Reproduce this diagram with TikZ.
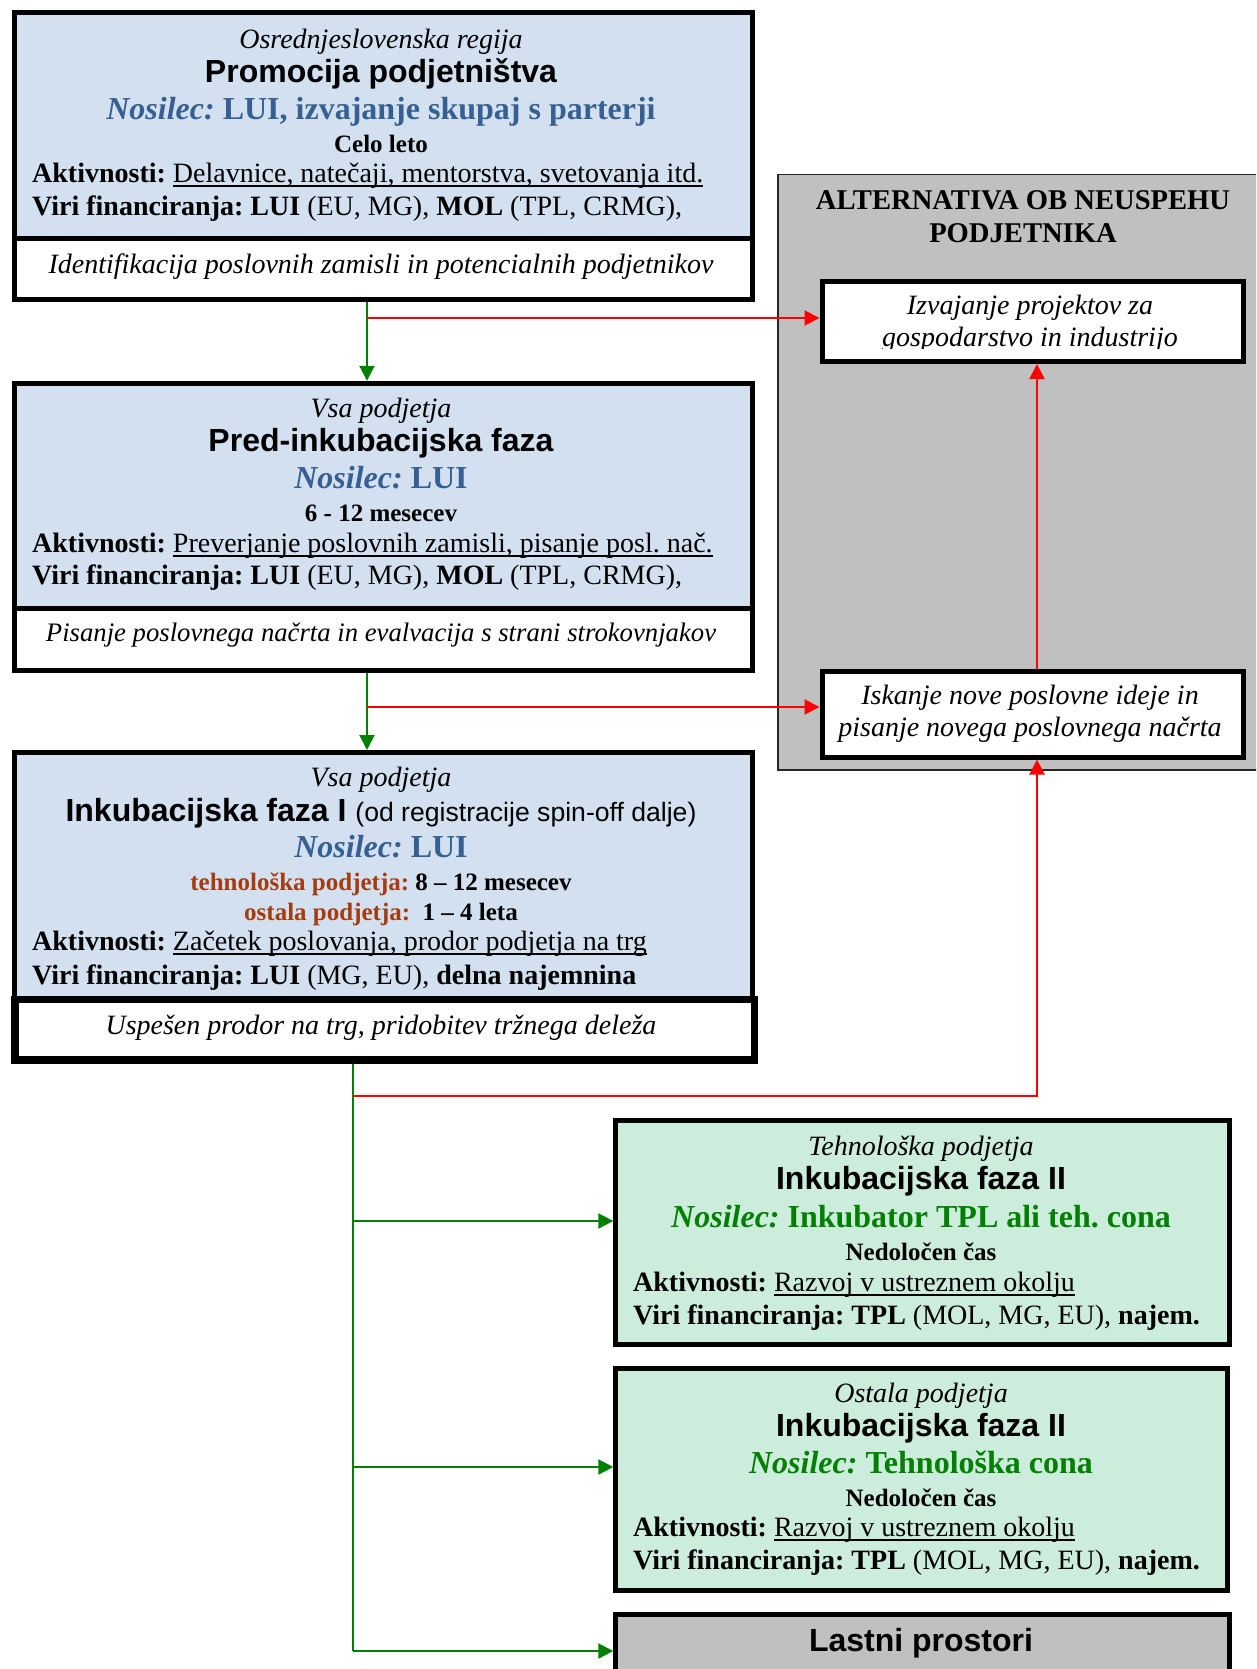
\documentclass[tikz,border=0pt]{standalone}
\usepackage{fontspec}
\setmainfont{Liberation Serif}
\setsansfont{Liberation Sans}
\usetikzlibrary{arrows.meta}
\frenchspacing
\definecolor{bluefill}{RGB}{210,224,240}
\definecolor{nosblue}{RGB}{54,96,146}
\definecolor{greenfill}{RGB}{204,236,220}
\definecolor{nosgreen}{RGB}{0,128,0}
\definecolor{tdbrown}{RGB}{165,60,15}
\definecolor{grayfill}{RGB}{192,192,192}
\newcommand\tdul[1]{\setbox0\hbox{#1}\rlap{\rule[-4pt]{\wd0}{1.6pt}}\box0}
\tikzset{
  frame/.style={draw=black, line width=5pt, anchor=north west, inner sep=0pt},
  bluebox/.style={frame, fill=bluefill},
  whitebox/.style={frame, fill=white},
  greenbox/.style={frame, fill=greenfill},
  altbox/.style={draw=black!85, line width=1.5pt, fill=grayfill, anchor=north west},
  altin/.style={frame, fill=white},
  txt/.style={anchor=mid, inner sep=0pt, yshift=-7.5pt, font=\fontsize{28}{32}\selectfont},
  txtl/.style={txt, anchor=mid west},
  itx/.style={txt, font=\fontsize{28}{32}\selectfont\itshape},
  head/.style={txt, font=\fontsize{32}{36}\selectfont\sffamily\bfseries},
  nos/.style={txt, font=\fontsize{32}{36}\selectfont\bfseries},
  dur/.style={txt, font=\fontsize{25}{29}\selectfont\bfseries},
  gline/.style={draw=nosgreen, line width=2pt},
  garrow/.style={gline, -{Triangle[length=15pt,width=15pt]}},
  rline/.style={draw=red, line width=2pt},
  rarrow/.style={rline, -{Triangle[length=15pt,width=15pt]}},
}
\begin{document}
\begin{tikzpicture}[x=1pt,y=-1pt]
\useasboundingbox (0,0) rectangle (1256,1669);
\clip (0,0) rectangle (1256,1669);

% ---------- boxes ----------
\node[bluebox, minimum width=738.5pt, minimum height=225.5pt] (b1) at (11.5,10.5) {};
\node[whitebox, minimum width=738.5pt, minimum height=61.5pt] (b1w) at (11.5,236) {};
\node[bluebox, minimum width=738.5pt, minimum height=225.5pt] (b2) at (11.5,380.8) {};
\node[whitebox, minimum width=738.5pt, minimum height=61.5pt] (b2w) at (11.5,606.3) {};
\node[bluebox, minimum width=738.5pt, minimum height=245.5pt] (b3) at (11.5,750) {};
\node[altbox, minimum width=520pt, minimum height=595pt] (alt) at (777,174) {};
\node[altin, minimum width=421pt, minimum height=79.5pt] (izv) at (819.5,279.5) {};
\node[altin, minimum width=421pt, minimum height=86pt] (isk) at (819.5,668.5) {};
\node[greenbox, minimum width=613.7pt, minimum height=223.2pt] (tpl) at (613.3,1118.3) {};
\node[greenbox, minimum width=612pt, minimum height=221.5pt] (ost) at (613.3,1366) {};
\node[frame, fill=grayfill, minimum width=613.7pt, minimum height=100pt] (last) at (613.3,1611.5) {};

% ---------- box 1 texts ----------
\node[itx] (b1a) at (381,39) {Osrednjeslovenska regija};
\node[head] (b1b) at (381,73) {Promocija podjetništva};
\node[nos, text=nosblue] (b1c) at (381,110) {\textit{Nosilec:} LUI, izvajanje skupaj s parterji};
\node[dur] (b1d) at (381,143) {Celo leto};
\node[txtl] (b1e) at (32,173) {\textbf{Aktivnosti:} \tdul{Delavnice, natečaji, mentorstva, svetovanja itd.}};
\node[txtl] (b1f) at (32,206) {\textbf{Viri financiranja: LUI} (EU, MG), \textbf{MOL} (TPL, CRMG),};
\node[itx] (b1g) at (381,264) {Identifikacija poslovnih zamisli in potencialnih podjetnikov};

% ---------- box 2 texts ----------
\node[itx] (b2a) at (381,408) {Vsa podjetja};
\node[head] (b2b) at (381,442) {Pred-inkubacijska faza};
\node[nos, text=nosblue] (b2c) at (381,479) {\textit{Nosilec:} LUI};
\node[dur] (b2d) at (381,512) {6 - 12 mesecev};
\node[txtl] (b2e) at (32,543) {\textbf{Aktivnosti:} \tdul{Preverjanje poslovnih zamisli, pisanje posl. nač.}};
\node[txtl] (b2f) at (32,575) {\textbf{Viri financiranja: LUI} (EU, MG), \textbf{MOL} (TPL, CRMG),};
\node[itx, font=\fontsize{26.7}{31}\selectfont\itshape] (b2g) at (381,632) {Pisanje poslovnega načrta in evalvacija s strani strokovnjakov};

% ---------- box 3 texts ----------
\node[itx] (b3a) at (381,777) {Vsa podjetja};
\node[head] (b3b) at (381,812) {Inkubacijska faza I {\mdseries\fontsize{26.6}{30}\selectfont (od registracije spin-off dalje)}};
\node[nos, text=nosblue] (b3c) at (381,848) {\textit{Nosilec:} LUI};
\node[dur] (b3d) at (381,881) {\textcolor{tdbrown}{tehnološka podjetja:} 8 – 12 mesecev};
\node[dur] (b3e) at (381,911) {\textcolor{tdbrown}{ostala podjetja:}\ \ 1 – 4 leta};
\node[txtl] (b3f) at (32,941) {\textbf{Aktivnosti:} \tdul{Začetek poslovanja, prodor podjetja na trg}};
\node[txtl] (b3g) at (32,975) {\textbf{Viri financiranja: LUI} (MG, EU), \textbf{delna najemnina}};
\node[whitebox, line width=7.5pt, minimum width=739.5pt, minimum height=60.5pt] (b3w) at (11,995.5) {};
\node[itx] (b3h) at (381,1025) {Uspešen prodor na trg, pridobitev tržnega deleža};

% ---------- alternative ----------
\node[txt, font=\fontsize{28.6}{32}\selectfont\bfseries] (gt1) at (1023,200) {ALTERNATIVA OB NEUSPEHU};
\node[txt, font=\fontsize{28.6}{32}\selectfont\bfseries] (gt2) at (1023,233) {PODJETNIKA};
\node[itx] (izv1) at (1030,305) {Izvajanje projektov za};
\begin{scope}
\clip (800,300) rectangle (1256,348);
\node[itx] (izv2) at (1030,337) {gospodarstvo in industrijo};
\end{scope}
\node[itx] (isk1) at (1030,695) {Iskanje nove poslovne ideje in};
\node[itx] (isk2) at (1030,727) {pisanje novega poslovnega načrta};

% ---------- phase II ----------
\node[itx] (t1) at (921,1146) {Tehnološka podjetja};
\node[head] (t2) at (921,1180) {Inkubacijska faza II};
\node[nos, text=nosgreen] (t3) at (921,1218) {\textit{Nosilec:} Inkubator TPL ali teh. cona};
\node[dur] (t4) at (921,1251) {Nedoločen čas};
\node[txtl] (t5) at (633,1282) {\textbf{Aktivnosti:} \tdul{Razvoj v ustreznem okolju}};
\node[txtl] (t6) at (633,1315) {\textbf{Viri financiranja: TPL} (MOL, MG, EU), \textbf{najem.}};

\node[itx] (o1) at (921,1393) {Ostala podjetja};
\node[head] (o2) at (921,1427) {Inkubacijska faza II};
\node[nos, text=nosgreen] (o3) at (921,1464) {\textit{Nosilec:} Tehnološka cona};
\node[dur] (o4) at (921,1497) {Nedoločen čas};
\node[txtl] (o5) at (633,1527) {\textbf{Aktivnosti:} \tdul{Razvoj v ustreznem okolju}};
\node[txtl] (o6) at (633,1560) {\textbf{Viri financiranja: TPL} (MOL, MG, EU), \textbf{najem.}};

\node[head] (l1) at (921,1642) {Lastni prostori};

% ---------- connectors ----------
\coordinate (gA) at (367,0);
\coordinate (gB) at (353,0);
\coordinate (rX) at (1037,0);
\coordinate (rA) at (367,318);
\coordinate (rB) at (367,707);
\coordinate (rC) at (353,1096);
\coordinate (gT) at (353,1221);
\coordinate (gO) at (353,1467);
\coordinate (gL) at (353,1651);

\draw[garrow] (b1w.south -| gA) -- (b2.north -| gA);
\draw[rarrow] (rA) -- (rA -| izv.west);
\draw[garrow] (b2w.south -| gA) -- (b3.north -| gA);
\draw[rarrow] (rB) -- (rB -| isk.west);
\draw[gline] (b3w.south -| gB) -- (gL);
\draw[garrow] (gT) -- (gT -| tpl.west);
\draw[garrow] (gO) -- (gO -| ost.west);
\draw[garrow] (gL) -- (gL -| last.west);
\draw[rarrow] (rC) -- (rC -| rX) -- (isk.south -| rX);
\draw[rarrow] (isk.north -| rX) -- (izv.south -| rX);
\end{tikzpicture}
\end{document}
